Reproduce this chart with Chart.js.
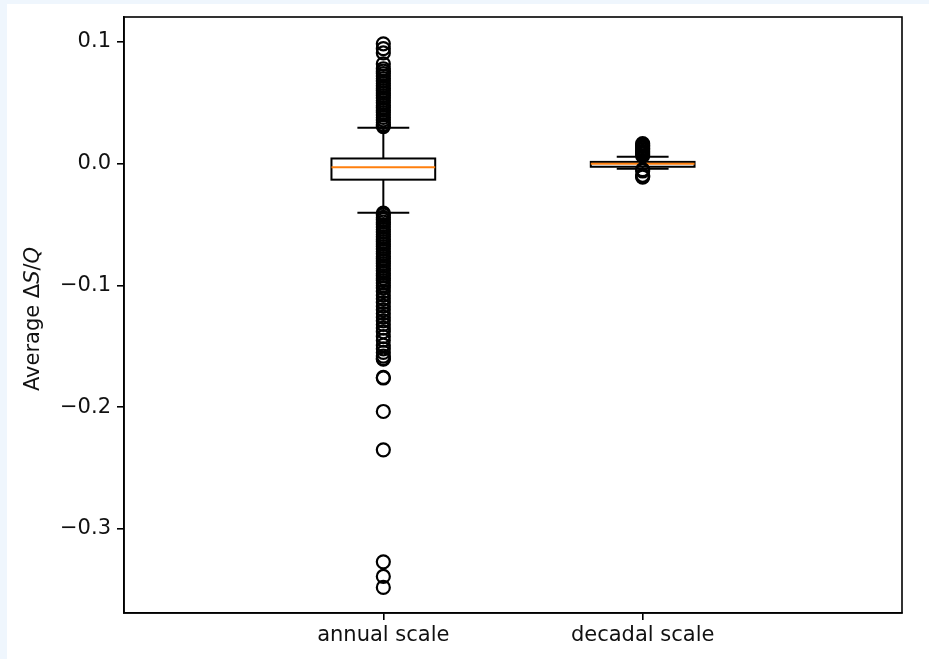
<!DOCTYPE html>
<html>
<head>
<meta charset="utf-8">
<script src="https://cdn.jsdelivr.net/npm/chart.js@4.4.0/dist/chart.umd.min.js"></script>
<style>
    html, body { margin: 0; padding: 0; background: #eff6fd; }
    #wrap { position: absolute; left: 7px; top: 4px; width: 922px; height: 655px; background: #fff; }
</style>
</head>
<body>
<div id="wrap"><canvas id="boxChart"></canvas></div>
<script>
// Box statistics, one entry per category
const categories = ['annual scale', 'decadal scale'];
const positions = [1, 2];
const q1 = [-0.0131, -0.0025];
const medians = [-0.0028, 0.0];
const q3 = [0.0043, 0.0015];
const whiskerLow = [-0.0403, -0.0042];
const whiskerHigh = [0.0296, 0.0058];

// Fliers
const annualOutliers = [
    0.0985, 0.0945, 0.091, 0.082, 0.078, 0.076, 0.074, 0.072, 0.070, 0.068,
    0.066, 0.064, 0.062, 0.060, 0.058, 0.056, 0.054, 0.052, 0.050, 0.048,
    0.046, 0.044, 0.042, 0.040, 0.038, 0.036, 0.034, 0.032, 0.0305,
    -0.0405, -0.042, -0.044, -0.046, -0.048, -0.05, -0.052, -0.054, -0.056,
    -0.058, -0.06, -0.062, -0.064, -0.066, -0.068, -0.07, -0.072, -0.074,
    -0.076, -0.078, -0.08, -0.082, -0.084, -0.086, -0.088, -0.09, -0.092,
    -0.094, -0.096, -0.098, -0.1, -0.102, -0.105, -0.108, -0.111, -0.114,
    -0.117, -0.12, -0.123, -0.126, -0.129, -0.132, -0.135, -0.138, -0.142,
    -0.145, -0.149, -0.152, -0.155, -0.158, -0.16, -0.1605,
    -0.1755, -0.176, -0.2035, -0.235, -0.327, -0.339, -0.348
];
const decadalOutliers = [
    0.0065, 0.0078, 0.009, 0.0102, 0.0115, 0.0128, 0.014, 0.0152, 0.0165,
    -0.0048, -0.006, -0.0095, -0.0105, -0.011
];

const yTicks = [0.1, 0.0, -0.1, -0.2, -0.3];
const yMin = -0.369;
const yMax = 0.1205;
const boxWidth = 0.4;

const fmt = v => (v < 0 ? '\u2212' : '') + Math.abs(v).toFixed(1);

// boxes, whiskers and medians drawn through the chart scales
const boxPlugin = {
    id: 'boxes',
    beforeDatasetsDraw(chart) {
        const { ctx, scales: { x, y } } = chart;
        ctx.save();
        ctx.lineWidth = 2;
        ctx.strokeStyle = '#000';
        positions.forEach((p, i) => {
            const xl = x.getPixelForValue(p - boxWidth / 2);
            const xr = x.getPixelForValue(p + boxWidth / 2);
            const cl = x.getPixelForValue(p - boxWidth / 4);
            const cr = x.getPixelForValue(p + boxWidth / 4);
            const xc = x.getPixelForValue(p);
            const yq1 = y.getPixelForValue(q1[i]);
            const yq3 = y.getPixelForValue(q3[i]);
            const ylo = y.getPixelForValue(whiskerLow[i]);
            const yhi = y.getPixelForValue(whiskerHigh[i]);
            ctx.beginPath();
            ctx.moveTo(xc, yq3); ctx.lineTo(xc, yhi);
            ctx.moveTo(xc, yq1); ctx.lineTo(xc, ylo);
            ctx.moveTo(cl, yhi); ctx.lineTo(cr, yhi);
            ctx.moveTo(cl, ylo); ctx.lineTo(cr, ylo);
            ctx.stroke();
            ctx.strokeRect(xl, yq3, xr - xl, yq1 - yq3);
            const ym = y.getPixelForValue(medians[i]);
            ctx.strokeStyle = '#ff7f0e';
            ctx.beginPath();
            ctx.moveTo(xl, ym); ctx.lineTo(xr, ym);
            ctx.stroke();
            ctx.strokeStyle = '#000';
        });
        ctx.restore();
    },
    afterDraw(chart) {
        const { ctx, chartArea: a } = chart;
        ctx.save();
        // axes frame
        ctx.strokeStyle = '#000';
        ctx.lineWidth = 1.6;
        ctx.strokeRect(a.left, a.top, a.right - a.left, a.bottom - a.top);
        // y label with italic S and Q
        const parts = [
            ['Average \u0394', 'normal 21px "DejaVu Sans"'],
            ['S', 'italic 21px "DejaVu Sans"'],
            ['/', 'normal 21px "DejaVu Sans"'],
            ['Q', 'italic 21px "DejaVu Sans"']
        ];
        let total = 0;
        parts.forEach(p => { ctx.font = p[1]; total += ctx.measureText(p[0]).width; });
        ctx.translate(27, (a.top + a.bottom) / 2 + 4);
        ctx.rotate(-Math.PI / 2);
        ctx.fillStyle = '#111';
        ctx.textBaseline = 'middle';
        let cx = -total / 2;
        parts.forEach(p => {
            ctx.font = p[1];
            ctx.fillText(p[0], cx, 0);
            cx += ctx.measureText(p[0]).width;
        });
        ctx.restore();
    }
};

const flierStyle = {
    pointStyle: 'circle',
    pointRadius: 6.5,
    borderWidth: 2.2,
    borderColor: '#000',
    backgroundColor: 'rgba(0,0,0,0)'
};

new Chart(document.getElementById('boxChart'), {
    type: 'scatter',
    data: {
        datasets: [
            { label: categories[0], data: annualOutliers.map(v => ({ x: positions[0], y: v })), ...flierStyle },
            { label: categories[1], data: decadalOutliers.map(v => ({ x: positions[1], y: v })), ...flierStyle }
        ]
    },
    options: {
        responsive: true,
        maintainAspectRatio: false,
        animation: false,
        events: [],
        layout: { padding: { top: 13, right: 27, left: 0, bottom: 0 } },
        plugins: { legend: { display: false }, tooltip: { enabled: false } },
        scales: {
            x: {
                type: 'linear',
                min: 0,
                max: 3,
                afterBuildTicks: s => { s.ticks = positions.map(v => ({ value: v })); },
                afterFit: s => { s.height = 46; s.paddingLeft = 0; s.paddingRight = 0; },
                ticks: {
                    callback: v => categories[positions.indexOf(v)],
                    font: { family: 'DejaVu Sans', size: 21 },
                    color: '#111',
                    padding: 3,
                    maxRotation: 0
                },
                grid: { drawOnChartArea: false, drawTicks: true, tickLength: 7, color: '#000', lineWidth: 1.6 },
                border: { display: true, color: '#000', width: 1.6 }
            },
            y: {
                min: yMin,
                max: yMax,
                afterBuildTicks: s => { s.ticks = yTicks.map(v => ({ value: v })); },
                afterFit: s => { s.width = 117; s.paddingTop = 0; s.paddingBottom = 0; },
                ticks: {
                    callback: v => fmt(v),
                    font: { family: 'DejaVu Sans', size: 21 },
                    color: '#111',
                    padding: 6
                },
                grid: { drawOnChartArea: false, drawTicks: true, tickLength: 7, color: '#000', lineWidth: 1.6 },
                border: { display: true, color: '#000', width: 1.6 }
            }
        }
    },
    plugins: [boxPlugin]
});
</script>
</body>
</html>
